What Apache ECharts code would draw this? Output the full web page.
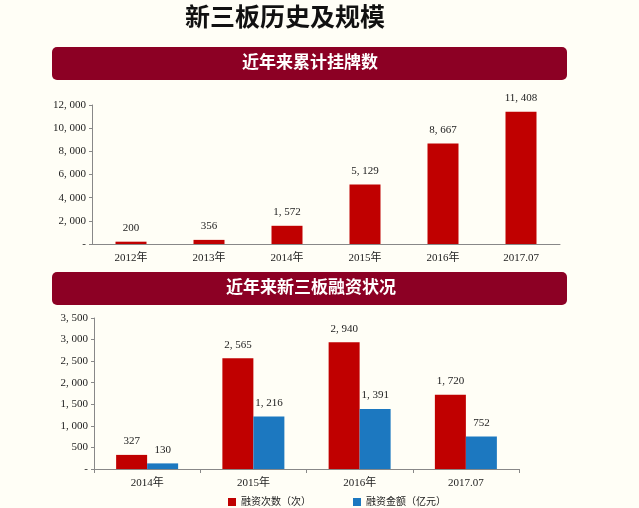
<!DOCTYPE html>
<html>
<head>
<meta charset="utf-8">
<script src="https://cdn.jsdelivr.net/npm/echarts@6/dist/echarts.min.js"></script>
<style>
html, body { margin: 0; padding: 0; background: #FFFEF6; }
#chart { width: 639px; height: 508px; }
</style>
</head>
<body>
<div id="chart"></div>
<script>
/*----- 数据 -----*/
var listYears = ['2012年', '2013年', '2014年', '2015年', '2016年', '2017.07'];
var listCount = [200, 356, 1572, 5129, 8667, 11408];

var financeYears = ['2014年', '2015年', '2016年', '2017.07'];
var financeTimes = [327, 2565, 2940, 1720];
var financeAmount = [130, 1216, 1391, 752];

var FONT = '"Liberation Serif", "Noto Sans CJK SC", serif';
var RED = '#C00000';
var BLUE = '#1C78C0';
var BANNER = '#8C0024';

function fmtNum(v){
	if(v === 0){
		return '-';
	}
	return String(v).replace(/\B(?=(\d{3})+(?!\d))/g, ', ');
}

function fmtLabel(p){
	return fmtNum(p.value);
}

var labelStyle = {
	show: true,
	position: 'top',
	distance: 8,
	color: '#222',
	fontSize: 11,
	fontFamily: FONT,
	formatter: fmtLabel
};

var option = {
	backgroundColor: '#FFFEF6',
	animation: false,
	title: {
		text: '新三板历史及规模',
		left: 280,
		textAlign: 'center',
		top: 2,
		textStyle: {
			color: '#111',
			fontSize: 25,
			fontWeight: 'bold',
			fontFamily: FONT
		}
	},
	graphic: [
		{
			type: 'rect',
			shape: { x: 52, y: 47, width: 515, height: 33, r: 5 },
			style: { fill: BANNER }
		},
		{
			type: 'text',
			x: 310, y: 64,
			style: {
				text: '近年来累计挂牌数',
				fill: '#fff',
				font: 'bold 17px ' + FONT,
				align: 'center',
				verticalAlign: 'middle'
			}
		},
		{
			type: 'rect',
			shape: { x: 52, y: 272, width: 515, height: 33, r: 5 },
			style: { fill: BANNER }
		},
		{
			type: 'text',
			x: 311, y: 289,
			style: {
				text: '近年来新三板融资状况',
				fill: '#fff',
				font: 'bold 17px ' + FONT,
				align: 'center',
				verticalAlign: 'middle'
			}
		}
	],
	legend: {
		left: 223,
		top: 492,
		itemWidth: 8,
		itemHeight: 8,
		itemGap: 42,
		icon: 'rect',
		textStyle: { fontSize: 10, color: '#222', fontFamily: FONT },
		data: ['融资次数（次）', '融资金额（亿元）']
	},
	grid: [
		{ left: 92, right: 79, top: 105, bottom: 264 },
		{ left: 94, right: 120, top: 318, bottom: 39 }
	],
	xAxis: [
		{
			type: 'category',
			gridIndex: 0,
			data: listYears,
			axisLine: { lineStyle: { color: '#888' } },
			axisTick: { show: false },
			axisLabel: { color: '#222', fontSize: 11, fontFamily: FONT, margin: 9 }
		},
		{
			type: 'category',
			gridIndex: 1,
			data: financeYears,
			axisLine: { lineStyle: { color: '#888' } },
			axisTick: { show: true, length: 4, lineStyle: { color: '#888' } },
			axisLabel: { color: '#222', fontSize: 11, fontFamily: FONT, margin: 9 }
		}
	],
	yAxis: [
		{
			type: 'value',
			gridIndex: 0,
			min: 0,
			max: 12000,
			interval: 2000,
			splitLine: { show: false },
			axisLine: { show: true, lineStyle: { color: '#888' } },
			axisTick: { show: true, length: 3, lineStyle: { color: '#888' } },
			axisLabel: { color: '#222', fontSize: 11, fontFamily: FONT, margin: 6, formatter: fmtNum }
		},
		{
			type: 'value',
			gridIndex: 1,
			min: 0,
			max: 3500,
			interval: 500,
			splitLine: { show: false },
			axisLine: { show: true, lineStyle: { color: '#888' } },
			axisTick: { show: true, length: 3, lineStyle: { color: '#888' } },
			axisLabel: { color: '#222', fontSize: 11, fontFamily: FONT, margin: 6, formatter: fmtNum }
		}
	],
	series: [
		{
			name: '累计挂牌数',
			type: 'bar',
			xAxisIndex: 0,
			yAxisIndex: 0,
			barWidth: 31,
			itemStyle: { color: RED },
			label: labelStyle,
			data: listCount
		},
		{
			name: '融资次数（次）',
			type: 'bar',
			xAxisIndex: 1,
			yAxisIndex: 1,
			barWidth: 31,
			barGap: '0%',
			itemStyle: { color: RED },
			label: labelStyle,
			data: financeTimes
		},
		{
			name: '融资金额（亿元）',
			type: 'bar',
			xAxisIndex: 1,
			yAxisIndex: 1,
			barWidth: 31,
			barGap: '0%',
			itemStyle: { color: BLUE },
			label: labelStyle,
			data: financeAmount
		}
	]
};
echarts.init(document.getElementById('chart')).setOption(option, true);
</script>
</body>
</html>
